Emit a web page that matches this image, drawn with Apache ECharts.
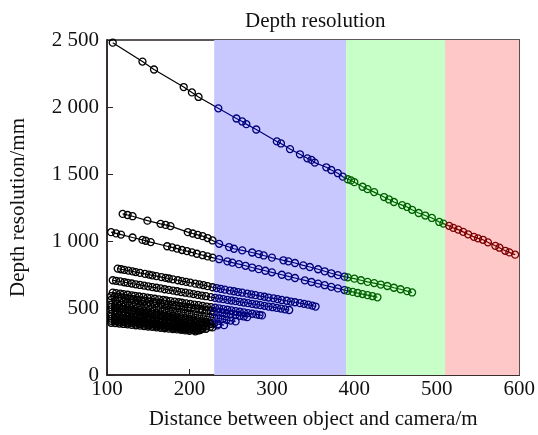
<!DOCTYPE html>
<html lang="en">
<head>
  <meta charset="UTF-8">
  <title>Depth resolution</title>
  <style>
    html, body { margin: 0; padding: 0; background: #fff; }
    #main { width: 538px; height: 435px; }
  </style>
</head>
<body>
  <div id="main"></div>
  <script src="https://cdn.jsdelivr.net/npm/echarts@6/dist/echarts.min.js"></script>
  <script type="text/javascript">

    // [distance m, depth resolution mm]
    var lineA = [[107, 2480], [143, 2339], [157, 2280], [193, 2149], [203, 2109], [211, 2075], [235, 1990], [257, 1914], [264, 1892], [269, 1872], [281, 1832], [306, 1743], [311, 1728], [322, 1686], [334, 1647], [343, 1617], [348, 1605], [352, 1585], [366, 1550], [372, 1530], [380, 1506], [386, 1480], [392, 1461], [396, 1452], [400, 1439], [410, 1405], [416, 1387], [424, 1365], [436, 1328], [442, 1310], [448, 1291], [458, 1268], [464, 1254], [470, 1233], [478, 1209], [486, 1190], [494, 1172], [503, 1142], [508, 1130], [515, 1113], [520, 1098], [526, 1085], [532, 1068], [538, 1050], [545, 1031], [550, 1020], [556, 1009], [562, 990], [571, 964], [576, 950], [583, 927], [588, 915], [595, 898]]
    var lineB = [[119, 1202], [125, 1194], [131, 1185], [149, 1152], [165, 1128], [171, 1120], [177, 1111], [198, 1066], [204, 1056], [210, 1046], [216, 1036], [222, 1022], [228, 1004], [236, 979], [248, 955], [254, 942], [264, 930], [276, 914], [284, 902], [290, 892], [300, 876], [314, 856], [320, 848], [328, 836], [338, 818], [346, 806], [356, 789], [364, 774], [372, 759], [380, 745], [388, 734], [392, 729], [400, 719], [408, 707], [416, 695], [424, 686], [432, 675], [440, 664], [448, 651], [456, 640], [464, 626], [470, 616]]
    var lineC = [[105, 1066], [111, 1057], [117, 1048], [131, 1026], [143, 1008], [147, 1002], [153, 992], [173, 961], [179, 952], [185, 943], [191, 933], [197, 924], [203, 915], [209, 905], [216, 894], [222, 885], [228, 876], [236, 864], [246, 848], [252, 839], [260, 827], [268, 815], [276, 802], [284, 790], [292, 778], [300, 766], [312, 748], [320, 736], [328, 724], [340, 706], [348, 694], [356, 682], [364, 670], [372, 658], [380, 646], [388, 634], [392, 628], [398, 620], [404, 612], [410, 604], [416, 596], [422, 588], [428, 580]]
    var lineD = [[113, 794], [117, 789], [121, 785], [126, 779], [131, 773], [135, 768], [140, 762], [146, 755], [151, 749], [155, 744], [160, 738], [166, 731], [171, 725], [175, 720], [180, 714], [186, 707], [191, 701], [196, 695], [201, 689], [207, 682], [212, 676], [217, 670], [222, 663], [228, 655], [233, 649], [238, 643], [243, 637], [249, 630], [254, 625], [259, 619], [264, 614], [270, 607], [275, 601], [280, 596], [286, 589], [291, 584], [296, 578], [302, 572], [307, 566], [312, 560], [318, 554], [323, 548], [328, 543], [334, 536], [339, 531], [344, 525], [349, 518], [353, 511]]
    var lineE = [[107, 707], [111, 703], [116, 698], [121, 692], [125, 688], [130, 683], [135, 677], [140, 672], [145, 667], [150, 662], [155, 656], [160, 651], [165, 646], [170, 640], [175, 635], [180, 630], [185, 625], [190, 619], [195, 614], [200, 609], [205, 604], [210, 598], [215, 593], [220, 588], [226, 581], [231, 576], [236, 571], [241, 566], [246, 561], [251, 556], [256, 551], [261, 546], [266, 541], [271, 536], [276, 531], [281, 526], [286, 521], [291, 516], [296, 511], [301, 506], [306, 501], [311, 496], [316, 490], [321, 485]]
    var lineF = [[107, 615], [111, 611], [116, 607], [120, 603], [125, 599], [130, 594], [134, 591], [139, 586], [144, 582], [149, 577], [153, 574], [158, 569], [163, 565], [168, 560], [172, 556], [177, 552], [182, 547], [187, 543], [191, 539], [196, 534], [201, 530], [206, 525], [211, 521], [216, 516], [221, 511], [226, 507], [231, 502], [236, 497], [241, 492], [246, 487], [251, 482], [256, 477], [261, 472], [266, 467], [271, 462], [276, 457], [281, 452], [285, 448], [288, 445]]
    var lineF2 = [[105, 588], [109, 584], [114, 580], [118, 576], [123, 571], [128, 567], [132, 563], [137, 558], [142, 554], [146, 550], [151, 545], [156, 541], [160, 537], [165, 532], [170, 528], [174, 524], [179, 519], [184, 515], [188, 511], [193, 506], [198, 502], [202, 498], [207, 493], [212, 489], [216, 485], [221, 480], [226, 476], [230, 472], [235, 467], [240, 463], [245, 458], [250, 453], [256, 447], [261, 442], [266, 437], [270, 432]]
    var lineG = [[105, 560], [110, 555], [115, 550], [120, 544], [125, 539], [130, 534], [135, 528], [140, 523], [145, 518], [150, 513], [155, 507], [160, 502], [165, 497], [170, 491], [175, 486], [180, 481], [185, 475], [190, 470], [195, 465], [200, 459], [205, 454], [210, 449], [215, 443], [220, 438], [225, 433], [230, 427], [235, 422], [240, 417], [245, 411], [250, 406], [256, 400]]
    var lineH = [[105, 525], [110, 520], [115, 514], [120, 508], [125, 503], [130, 497], [135, 492], [140, 486], [145, 481], [150, 475], [155, 469], [160, 464], [165, 458], [170, 453], [175, 447], [180, 442], [185, 436], [190, 430], [195, 425], [200, 419], [205, 414], [210, 408], [215, 402], [220, 397], [225, 391], [230, 386], [235, 380], [242, 372]]
    var lineH2 = [[105, 507], [110, 502], [115, 496], [120, 491], [125, 486], [130, 480], [135, 475], [140, 470], [145, 464], [150, 459], [155, 454], [160, 448], [165, 443], [170, 438], [175, 432], [180, 427], [185, 422], [190, 416], [195, 411], [200, 406], [205, 400], [210, 395], [215, 390], [220, 384], [225, 379], [234, 370]]
    var lineI = [[105, 490], [110, 484], [115, 479], [120, 473], [125, 468], [130, 462], [135, 457], [140, 451], [145, 446], [150, 441], [155, 435], [160, 430], [165, 424], [170, 419], [175, 413], [180, 408], [185, 402], [190, 397], [195, 391], [200, 386], [205, 380], [210, 375], [215, 369], [220, 364], [225, 358], [228, 355]]
    var lineJ = [[105, 455], [110, 450], [115, 446], [120, 441], [125, 436], [130, 431], [135, 426], [140, 421], [145, 417], [150, 412], [155, 407], [160, 402], [165, 398], [170, 393], [175, 388], [180, 383], [185, 378], [190, 374], [195, 369], [200, 364], [205, 359], [210, 354], [215, 350], [220, 345]]
    var lineJ2 = [[105, 437], [110, 433], [115, 429], [120, 424], [125, 420], [130, 416], [135, 412], [140, 408], [145, 404], [150, 400], [155, 396], [160, 391], [165, 387], [170, 383], [175, 379], [180, 375], [185, 371], [190, 367], [195, 362], [200, 358], [205, 354], [210, 350], [216, 345]]
    var lineK = [[105, 420], [110, 416], [115, 412], [120, 408], [125, 404], [130, 400], [135, 396], [140, 392], [145, 388], [150, 384], [155, 381], [160, 377], [165, 373], [170, 369], [175, 365], [180, 361], [185, 357], [190, 353], [195, 349], [200, 345], [205, 341], [210, 337], [213, 335]]
    var lineK2 = [[105, 404], [110, 401], [115, 397], [120, 394], [125, 390], [130, 387], [135, 383], [140, 380], [145, 376], [150, 373], [155, 369], [160, 366], [165, 362], [170, 359], [175, 355], [180, 352], [185, 348], [190, 345], [195, 341], [200, 338], [205, 335], [210, 331]]
    var lineL = [[105, 390], [110, 387], [115, 384], [120, 381], [125, 378], [130, 374], [135, 371], [140, 368], [145, 365], [150, 362], [155, 359], [160, 356], [165, 352], [170, 349], [175, 346], [180, 343], [185, 340], [190, 337], [195, 333], [200, 330], [207, 326]]

    // distance ranges that are shaded, and their colours
    var bandEdges = [230, 390, 510, 600]
    var bandFills = ['#c8c8ff', '#c8ffc8', '#ffc8c8']
    var markColors = ['#000000', '#00007c', '#006000', '#7c0000']

    var lines = [lineA, lineB, lineC, lineD, lineE, lineF, lineF2, lineG, lineH, lineH2, lineI, lineJ, lineJ2, lineK, lineK2, lineL]

    var axisColor = '#2b2222'
    var textFont = 'Liberation Serif'

    function markColor (x) {
      for (var i = 0; i < bandEdges.length - 1; i++) {
        if (x >= bandEdges[i] && x < bandEdges[i + 1]) return markColors[i + 1]
      }
      if (x >= bandEdges[bandEdges.length - 1]) return markColors[markColors.length - 1]
      return markColors[0]
    }

    function thousands (v) {
      if (v < 1000) return String(v)
      var rest = String(v % 1000)
      while (rest.length < 3) rest = '0' + rest
      return Math.floor(v / 1000) + ' ' + rest
    }

    var series = lines.map(function (d) {
      return {
        type: 'line',
        data: d,
        symbol: 'none',
        lineStyle: { width: 1.2 },
        z: 3
      }
    })

    var points = []
    lines.forEach(function (d) {
      d.forEach(function (p) {
        points.push({ value: p, itemStyle: { borderColor: markColor(p[0]) } })
      })
    })

    var areas = []
    for (var i = 0; i < bandFills.length; i++) {
      areas.push([
        { xAxis: bandEdges[i], itemStyle: { color: bandFills[i], opacity: 1 } },
        { xAxis: bandEdges[i + 1] }
      ])
    }

    series.push({
      type: 'scatter',
      data: points,
      symbol: 'circle',
      symbolSize: 7,
      itemStyle: { color: 'rgba(0,0,0,0)', borderWidth: 1.3, opacity: 1 },
      z: 4,
      markArea: {
        silent: true,
        data: areas
      }
    })

    var myChart = echarts.init(document.getElementById('main'))
    var option = {
      animation: false,
      backgroundColor: '#fff',
      title: {
        text: 'Depth resolution',
        left: 240,
        top: 6,
        textStyle: { fontFamily: textFont, fontSize: 21, fontWeight: 'normal', color: '#111' }
      },
      grid: {
        left: 106,
        right: 8,
        top: 40,
        bottom: 58,
        show: true,
        borderColor: axisColor,
        borderWidth: 1.5
      },
      visualMap: {
        type: 'piecewise',
        show: false,
        dimension: 0,
        seriesIndex: lines.map(function (d, i) { return i }),
        pieces: [
          { lt: bandEdges[0], color: markColors[0] },
          { gte: bandEdges[0], lt: bandEdges[1], color: markColors[1] },
          { gte: bandEdges[1], lt: bandEdges[2], color: markColors[2] },
          { gte: bandEdges[2], color: markColors[3] }
        ]
      },
      xAxis: {
        type: 'value',
        min: 100,
        max: 600,
        interval: 100,
        name: 'Distance between object and camera/m',
        nameLocation: 'middle',
        nameGap: 34,
        nameTextStyle: { fontFamily: textFont, fontSize: 21, color: '#111' },
        axisLine: { lineStyle: { color: axisColor, width: 1.5 } },
        axisTick: { inside: true, length: 6, lineStyle: { color: axisColor } },
        axisLabel: { fontFamily: textFont, fontSize: 21, color: '#111', margin: 4 },
        splitLine: { show: false }
      },
      yAxis: {
        type: 'value',
        min: 0,
        max: 2500,
        interval: 500,
        name: 'Depth resolution/mm',
        nameLocation: 'middle',
        nameGap: 78,
        nameTextStyle: { fontFamily: textFont, fontSize: 21, color: '#111' },
        axisLine: { lineStyle: { color: axisColor, width: 1.5 } },
        axisTick: { inside: true, length: 6, lineStyle: { color: axisColor } },
        axisLabel: { fontFamily: textFont, fontSize: 21, color: '#111', margin: 8, formatter: thousands },
        splitLine: { show: false }
      },
      series: series
    }
    myChart.setOption(option)
  </script>
</body>
</html>
